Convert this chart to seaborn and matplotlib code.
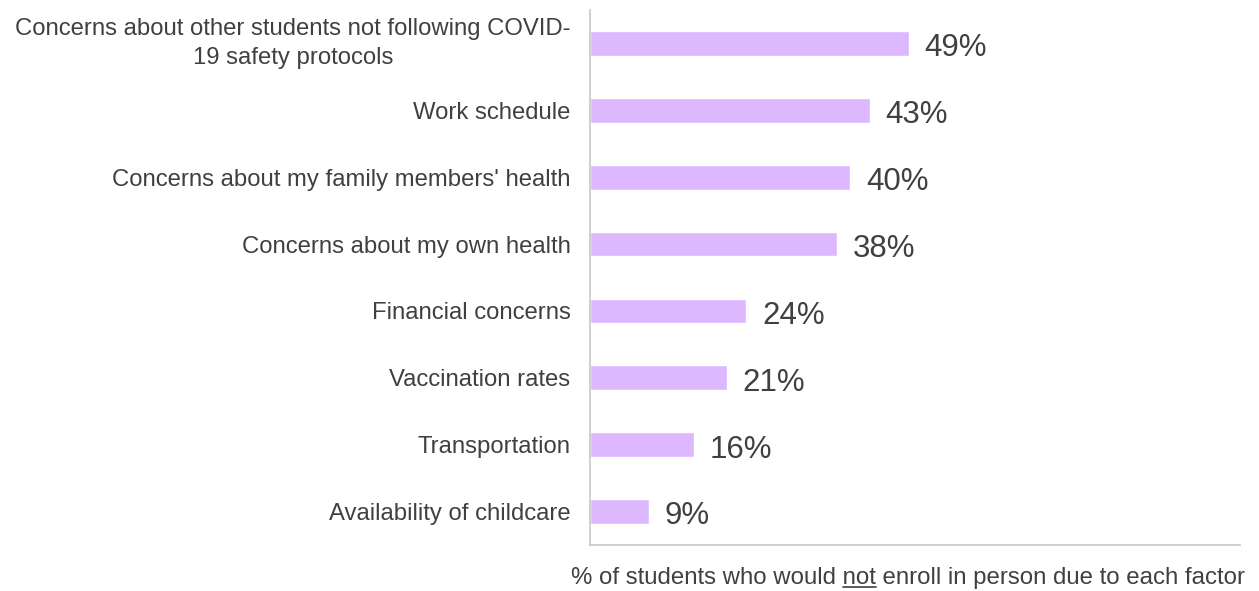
import matplotlib
matplotlib.use("Agg")
import matplotlib.pyplot as plt
import matplotlib.transforms as mtransforms
import seaborn as sns
import pandas as pd
from matplotlib.lines import Line2D

categories = [
    "Concerns about other students not following COVID-\n19 safety protocols",
    "Work schedule",
    "Concerns about my family members' health",
    "Concerns about my own health",
    "Financial concerns",
    "Vaccination rates",
    "Transportation",
    "Availability of childcare",
]
values = [49, 43, 40, 38, 24, 21, 16, 9]
value_labels = ["49%", "43%", "40%", "38%", "24%", "21%", "16%", "9%"]
xlabel_parts = ["% of students who would ", "not", " enroll in person due to each factor"]

sns.set_theme(style="white")
plt.rcParams["font.family"] = ["Liberation Sans", "DejaVu Sans"]

TEXT = "#404040"
BAR = "#DDB8FF"
SPINE = "#C8C8C8"

df = pd.DataFrame({"cat": categories, "val": values})

fig = plt.figure(figsize=(12.59, 5.91), dpi=100)
ax = fig.add_axes([590 / 1259, 1 - 545 / 591, (1240 - 590) / 1259, (545 - 10) / 591])

sns.barplot(data=df, x="val", y="cat", orient="h", color=BAR, width=0.37,
            saturation=1, ax=ax)

ax.set_xlim(0, 100)
ax.set_ylim(7.5, -0.5)
ax.set_xticks([])
ax.set_xlabel("")
ax.set_ylabel("")
ax.tick_params(axis="y", length=0, pad=14, labelsize=17.2, labelcolor=TEXT)
for lab in ax.get_yticklabels():
    lab.set_multialignment("center")
    lab.set_linespacing(1.4)
    if "\n" in lab.get_text():
        lab.set_transform(lab.get_transform() +
                          mtransforms.ScaledTranslation(0, 4 / 72, fig.dpi_scale_trans))

for s in ["top", "right"]:
    ax.spines[s].set_visible(False)
for s in ["left", "bottom"]:
    ax.spines[s].set_color(SPINE)
    ax.spines[s].set_linewidth(1.2)

for i, (v, t) in enumerate(zip(values, value_labels)):
    ax.annotate(t, xy=(v, i), xytext=(11.5, -3.5), textcoords="offset points",
                ha="left", va="center", fontsize=22.5, color=TEXT)

# x-axis caption with underlined word
full = "".join(xlabel_parts)
xr, yc = 1245 / 1259, 1 - 578 / 591
cap = fig.text(xr, yc, full, ha="right", va="center", fontsize=17.3, color=TEXT)
fig.canvas.draw()
r = fig.canvas.get_renderer()
bb = cap.get_window_extent(r)
tmp1 = fig.text(0, 0, xlabel_parts[0], fontsize=17.3)
tmp2 = fig.text(0, 0, xlabel_parts[0] + xlabel_parts[1], fontsize=17.3)
w1 = tmp1.get_window_extent(r).width
w2 = tmp2.get_window_extent(r).width
tmp1.remove(); tmp2.remove()
x0 = (bb.x0 + w1) / fig.bbox.width
x1 = (bb.x0 + w2) / fig.bbox.width
yu = (bb.y0 + 2) / fig.bbox.height
fig.add_artist(Line2D([x0, x1], [yu, yu], transform=fig.transFigure, color=TEXT, lw=1.2))

fig.savefig("out.png", dpi=100)
